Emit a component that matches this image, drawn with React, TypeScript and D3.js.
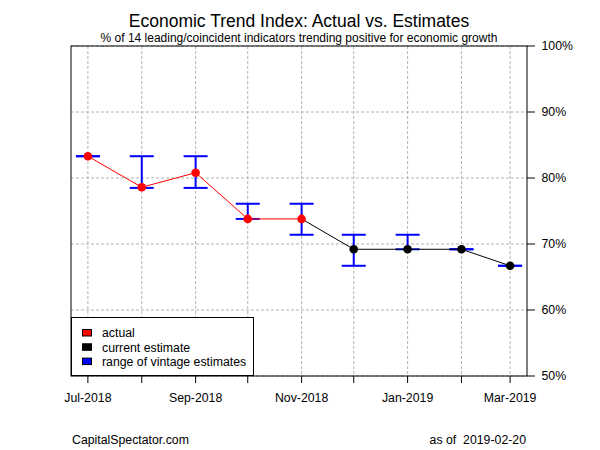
import React from "react";
import * as d3 from "d3";

const months = ["2018-07-01", "2018-08-01", "2018-09-01", "2018-10-01", "2018-11-01", "2018-12-01", "2019-01-01", "2019-02-01", "2019-03-01"];
const indexValues = [83.3, 78.6, 80.8, 73.8, 73.8, 69.2, 69.2, 69.2, 66.7];
const lastActualIndex = 4;
const rangeLow = [83.3, 78.5, 78.5, 73.8, 71.4, 66.7, 69.2, 69.2, 66.7];
const rangeHigh = [83.3, 83.3, 83.3, 76.1, 76.1, 71.4, 71.4, 69.2, 66.7];
const yTicks = [50, 60, 70, 80, 90, 100];
const labeledMonths = ["2018-07-01", "2018-09-01", "2018-11-01", "2019-01-01", "2019-03-01"];
const legendItems = [
  { label: "actual", color: "#ff0000" },
  { label: "current estimate", color: "#000000" },
  { label: "range of vintage estimates", color: "#0000ff" },
];
const titleText = "Economic Trend Index: Actual vs. Estimates";
const subtitleText = "% of 14 leading/coincident indicators trending positive for economic growth";
const footerLeft = "CapitalSpectator.com";
const footerRight = "as of  2019-02-20";

const FONT = "'Liberation Sans', Arial, sans-serif";

export default function App() {
  const L = 71, R = 527, T = 46, B = 376;
  const dates = months.map((m) => new Date(m + "T00:00:00Z"));
  const t0 = +dates[0], t1 = +dates[dates.length - 1];
  const pad = (t1 - t0) * 0.04;
  const x = d3.scaleUtc().domain([new Date(t0 - pad), new Date(t1 + pad)]).range([L, R]);
  const y = d3.scaleLinear().domain([50, 100]).range([B, T]);
  const fmt = d3.utcFormat("%b-%Y");

  const line = d3.line<number>().x((i) => x(dates[i])).y((i) => y(indexValues[i]));
  const actualIdx = d3.range(0, lastActualIndex + 1);
  const estIdx = d3.range(lastActualIndex, months.length);
  const cap = 12;

  return (
    <svg width={600} height={450} style={{ position: "absolute", left: 0, top: 0, background: "#fff" }} fontFamily={FONT}>
      <rect x={0} y={0} width={600} height={450} fill="#fff" />
      {/* grid */}
      {dates.map((d, i) => (
        <line key={"gv" + i} x1={x(d)} x2={x(d)} y1={T} y2={B} stroke="#b4b4b4" strokeDasharray="3,2" />
      ))}
      {yTicks.map((v) => (
        <line key={"gh" + v} x1={L} x2={R} y1={y(v)} y2={y(v)} stroke="#b4b4b4" strokeDasharray="3,2" />
      ))}
      {/* error bars */}
      {dates.map((d, i) => {
        const cx = x(d);
        return (
          <g key={"eb" + i} stroke="#0000ff" strokeWidth={2}>
            <line x1={cx} x2={cx} y1={y(rangeLow[i])} y2={y(rangeHigh[i])} />
            <line x1={cx - cap} x2={cx + cap} y1={y(rangeLow[i])} y2={y(rangeLow[i])} />
            <line x1={cx - cap} x2={cx + cap} y1={y(rangeHigh[i])} y2={y(rangeHigh[i])} />
          </g>
        );
      })}
      {/* lines */}
      <path d={line(estIdx) || ""} fill="none" stroke="#000" strokeWidth={1} />
      <path d={line(actualIdx) || ""} fill="none" stroke="#ff0000" strokeWidth={1} />
      {/* points */}
      {dates.map((d, i) => (
        <circle key={"pt" + i} cx={x(d)} cy={y(indexValues[i])} r={4.3} fill={i <= lastActualIndex ? "#ff0000" : "#000"} />
      ))}
      {/* box */}
      <rect x={L} y={T} width={R - L} height={B - T} fill="none" stroke="#000" strokeWidth={1} />
      {/* x axis */}
      {dates.map((d, i) => (
        <line key={"xt" + i} x1={x(d)} x2={x(d)} y1={B} y2={B + 7} stroke="#000" />
      ))}
      {dates.map((d, i) =>
        labeledMonths.includes(months[i]) ? (
          <text key={"xl" + i} x={x(d)} y={401.5} textAnchor="middle" fontSize={12.3} fill="#000">
            {fmt(d)}
          </text>
        ) : null
      )}
      {/* y axis right */}
      {yTicks.map((v) => (
        <g key={"yt" + v}>
          <line x1={R} x2={R + 8} y1={y(v)} y2={y(v)} stroke="#000" />
          <text x={541.5} y={y(v)} dy="0.36em" fontSize={12.3} fill="#000">
            {v + "%"}
          </text>
        </g>
      ))}
      {/* legend */}
      <rect x={71.5} y={317.5} width={182} height={58} fill="#fff" stroke="#000" strokeWidth={1} />
      {legendItems.map((it, i) => (
        <g key={"lg" + i}>
          <rect x={82.5} y={329.5 + i * 14.3} width={9} height={6.5} fill={it.color} stroke="#000" strokeWidth={1} />
          <text x={102} y={333 + i * 14.3} dy="0.36em" fontSize={12.3} fill="#000">
            {it.label}
          </text>
        </g>
      ))}
      {/* titles */}
      <text x={299} y={27} textAnchor="middle" fontSize={17.5} fill="#000">
        {titleText}
      </text>
      <text x={299} y={42} textAnchor="middle" fontSize={12} fill="#000">
        {subtitleText}
      </text>
      {/* footer */}
      <text x={72} y={443.5} fontSize={12.3} fill="#000">
        {footerLeft}
      </text>
      <text x={526} y={443.5} textAnchor="end" fontSize={12.3} fill="#000" style={{ whiteSpace: "pre" }}>
        {footerRight}
      </text>
    </svg>
  );
}
